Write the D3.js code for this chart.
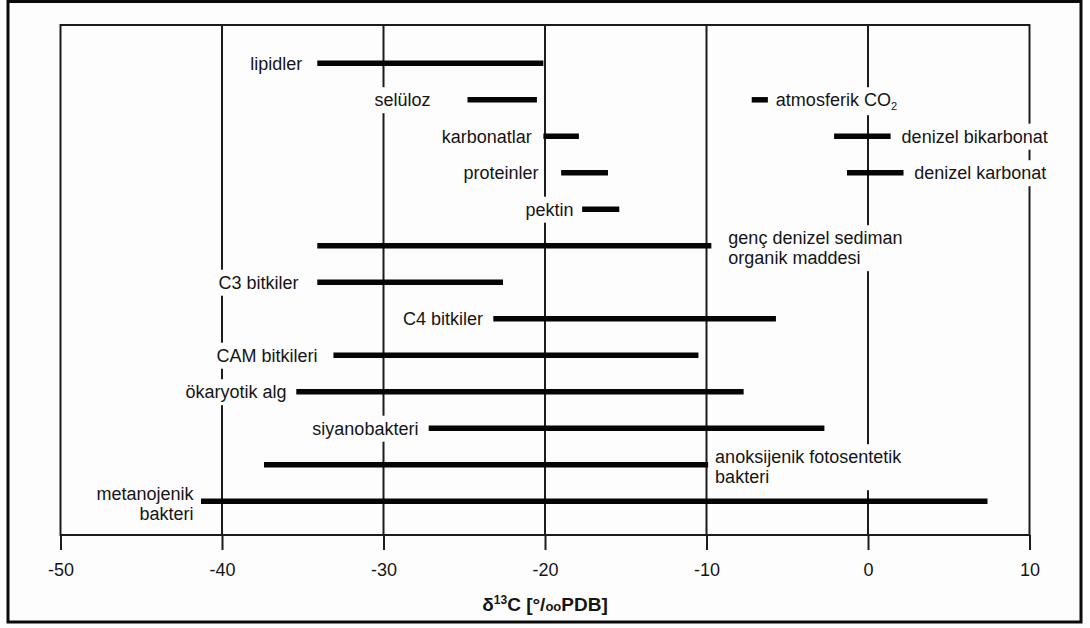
<!DOCTYPE html>
<html>
<head>
<meta charset="utf-8">
<script src="https://cdn.jsdelivr.net/npm/d3@7/dist/d3.min.js"></script>
<style>
  html, body { margin: 0; padding: 0; background: #fdfdfd; }
  svg { display: block; }
  text { font-family: "Liberation Sans", Arial, Helvetica, sans-serif; fill: #151515; }
</style>
</head>
<body>
<svg id="chart" width="1090" height="628"></svg>
<script>
// δ13C ranges (‰ PDB) of carbon pools and organisms
const names = [
  "lipidler", "selüloz", "atmosferik CO₂", "karbonatlar", "denizel bikarbonat",
  "proteinler", "denizel karbonat", "pektin", "genç denizel sediman\norganik maddesi",
  "C3 bitkiler", "C4 bitkiler", "CAM bitkileri", "ökaryotik alg", "siyanobakteri",
  "anoksijenik fotosentetik\nbakteri", "metanojenik\nbakteri"
];
const rowIndex = [0, 1, 1, 2, 2, 3, 3, 4, 5, 6, 7, 8, 9, 10, 11, 12];
const lowValues  = [-34.1, -24.8, -7.2, -20.1, -2.1, -19.0, -1.3, -17.7, -34.1, -34.1, -23.2, -33.1, -35.4, -27.2, -37.4, -41.3];
const highValues = [-20.1, -20.5, -6.2, -17.9,  1.4, -16.1,  2.2, -15.4,  -9.7, -22.6,  -5.7, -10.5,  -7.7,  -2.7,  -9.9,   7.4];
const tickValues = [-50, -40, -30, -20, -10, 0, 10];

// label placement: which end of the bar the label sits at, and the gap in px
const labelSide = ["L", "L", "R", "L", "R", "L", "R", "L", "R", "L", "L", "L", "L", "L", "R", "L"];
const labelGap  = [15, 37, 8, 11.6, 11, 22.7, 10.7, 8.7, 17, 18.7, 10.3, 16, 9.7, 10.3, 7, 7.4];

const svg = d3.select("#chart");

// outer frame
svg.append("rect")
  .attr("x", 8).attr("y", 1.5).attr("width", 1073).attr("height", 620.5)
  .attr("fill", "#fdfdfd").attr("stroke", "#0a0a0a").attr("stroke-width", 3);

const plot = { left: 60.5, right: 1029.5, top: 25, bottom: 535 };

const x = d3.scaleLinear().domain([-50, 10]).range([plot.left, plot.right]);
const y = d3.scalePoint().domain(d3.range(13)).range([63.3, 501.3]);

// vertical grid lines
svg.append("g").selectAll("line")
  .data(tickValues.slice(1, -1))
  .join("line")
  .attr("x1", d => x(d)).attr("x2", d => x(d))
  .attr("y1", plot.top).attr("y2", plot.bottom)
  .attr("stroke", "#1c1c1c").attr("stroke-width", 2);

// plot frame
svg.append("rect")
  .attr("x", plot.left).attr("y", plot.top)
  .attr("width", plot.right - plot.left).attr("height", plot.bottom - plot.top)
  .attr("fill", "none").attr("stroke", "#1c1c1c").attr("stroke-width", 2);

// bottom axis
const axis = d3.axisBottom(x)
  .tickValues(tickValues)
  .tickFormat(d => String(d))
  .tickSize(15)
  .tickPadding(13);
const ax = svg.append("g")
  .attr("transform", `translate(0,${plot.bottom})`)
  .call(axis);
ax.select(".domain").remove();
ax.selectAll(".tick line").attr("stroke", "#1c1c1c").attr("stroke-width", 2);
ax.selectAll(".tick text")
  .attr("font-size", 18)
  .attr("font-family", "'Liberation Sans', Arial, sans-serif")
  .attr("fill", "#151515");

// axis title: δ13C [‰PDB]
const title = svg.append("text")
  .attr("x", x(-20)).attr("y", 611)
  .attr("text-anchor", "middle")
  .attr("font-size", 19).attr("font-weight", "bold");
title.append("tspan").text("δ");
title.append("tspan").attr("font-size", 12).attr("dy", -7).text("13");
title.append("tspan").attr("dy", 7).text("C [°/");
title.append("tspan").attr("font-size", 13).text("oo");
title.append("tspan").text("PDB]");

// records built from the arrays
const records = names.map((n, i) => ({
  name: n, row: rowIndex[i], lo: lowValues[i], hi: highValues[i],
  side: labelSide[i], gap: labelGap[i]
}));

// labels with a white backing that breaks the grid lines
const labelLayer = svg.append("g");
records.forEach(r => {
  const yy = y(r.row);
  const lines = r.name.split("\n");
  const anchorX = r.side === "L" ? x(r.lo) - r.gap : x(r.hi) + r.gap;
  const g = labelLayer.append("g");
  const bg = g.append("rect").attr("fill", "#fdfdfd");
  const t = g.append("text")
    .attr("x", anchorX)
    .attr("text-anchor", r.side === "L" ? "end" : "start")
    .attr("font-size", 18);
  lines.forEach((line, k) => {
    const baseY = lines.length === 1 ? yy + 6.4 : yy - 8 + 6.4 + k * 20;
    const ts = t.append("tspan").attr("x", anchorX).attr("y", baseY);
    if (line.includes("₂")) {
      const parts = line.split("₂");
      ts.text(parts[0]);
      t.append("tspan").attr("font-size", 11).attr("dy", 4).text("2");
    } else {
      ts.text(line);
    }
  });
  const b = t.node().getBBox();
  bg.attr("x", b.x - 3).attr("y", b.y - 3)
    .attr("width", b.width + 6).attr("height", b.height + 6);
});

// range bars
svg.append("g").selectAll("line")
  .data(records)
  .join("line")
  .attr("x1", d => x(d.lo)).attr("x2", d => x(d.hi))
  .attr("y1", d => y(d.row)).attr("y2", d => y(d.row))
  .attr("stroke", "#050505").attr("stroke-width", 5.5)
  .attr("stroke-linecap", "butt");
</script>
</body>
</html>
